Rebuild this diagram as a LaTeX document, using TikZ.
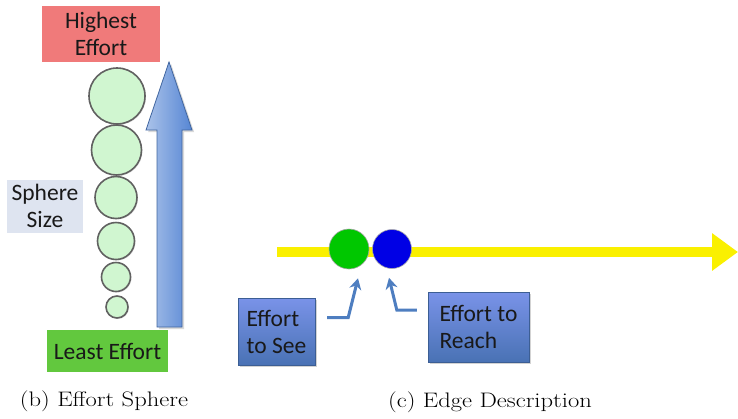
\documentclass[tikz,border=0pt]{standalone}
\usepackage{fontspec}
\usepackage{graphicx}
\newfontfamily\labelfont{Carlito}
\usetikzlibrary{arrows,arrows.meta,shadows}
\definecolor{highred}{RGB}{240,122,122}
\definecolor{leastgreen}{RGB}{98,200,62}
\definecolor{sizegrey}{RGB}{222,228,240}
\definecolor{spheregreen}{RGB}{208,246,208}
\definecolor{bigblue}{RGB}{86,134,212}
\definecolor{pointblue}{RGB}{78,126,192}
\definecolor{edgeyellow}{RGB}{250,240,0}
\newcommand{\wide}[1]{\scalebox{1.17}[1]{#1}}
\tikzstyle{labelbox}=[rectangle,inner sep=2pt,font=\labelfont\fontsize{23.5}{27}\selectfont,text=black!90]
\tikzstyle{bluebox}=[labelbox,top color=blue!25!bigblue!70!white,bottom color=bigblue!85!black,draw=bigblue!70!black,align=left,drop shadow={opacity=0.35}]
\tikzstyle{sphere}=[circle,draw=black!62,line width=1.6pt,fill=spheregreen,inner sep=0pt,drop shadow={opacity=0.25,shadow xshift=1pt,shadow yshift=-1pt}]
\tikzstyle{dot}=[circle,inner sep=0pt,draw=black!35,line width=0.6pt]
\tikzstyle{pointer} = [draw=pointblue,line width=3pt,-{Stealth[length=11pt,width=12pt]}]
\tikzstyle{edge} = [draw=edgeyellow,line width=10pt,-{Triangle[length=26pt,width=36pt]}]
\tikzstyle{caption}=[font=\fontsize{21}{24}\selectfont]

\begin{document}
\begin{tikzpicture}[x=1pt,y=-1pt]
    \useasboundingbox (0,0) rectangle (738,418);
    % (b) effort sphere: labels first
    \node[labelbox,fill=highred,minimum width=118pt,minimum height=56pt,align=center] (highest) at (101,34) {Highest\\Effort};
    \node[labelbox,fill=sizegrey,minimum width=76pt,minimum height=53pt,align=center] (size) at (45,206) {Sphere\\Size};
    \node[labelbox,fill=leastgreen,minimum width=121pt,minimum height=42pt] (least) at (107.5,351) {Least Effort};

    % big arrow going up
    \path[draw=bigblue!75!black,line width=0.8pt,left color=bigblue!50!white,right color=bigblue,drop shadow={opacity=0.3}]
        (157,327) -- (157,130) -- (146,130) -- (169,62) -- (192,130) -- (182,130) -- (182,327) -- cycle;

    % the spheres, largest on top
    \foreach \pos/\d/\name in {{(117,96)/56/s1}, {(116.5,150)/50/s2}, {(116,197.5)/42/s3},
                               {(116,241)/37/s4}, {(116,277)/29/s5}, {(117,307)/22/s6}}
        \node[sphere,minimum size=\d pt] (\name) at \pos {};

    \node[caption] (capb) at (104,401) {\wide{(b) Effort Sphere}};

    % (c) edge description
    \coordinate (edgestart) at (277,252);
    \coordinate (edgeend) at (738,252);
    \draw[edge] (edgestart) -- (edgeend);

    \node[dot,fill=green!78!black,minimum size=40pt] (seedot) at (349,249) {};
    \node[dot,fill=blue!90!black,minimum size=39pt] (reachdot) at (392,249) {};

    \node[bluebox,minimum width=77pt,minimum height=67pt] (see) at (276.5,331.5) {Effort\\to See};
    \node[bluebox,minimum width=101pt,minimum height=70pt] (reach) at (478.5,327) {Effort to\\Reach};

    % pointers from the boxes to the dots
    \draw[pointer] ([xshift=12pt,yshift=14pt]see.east) -- ++(21,0) -- ([xshift=9pt,yshift=-9pt]seedot.south);
    \draw[pointer] ([xshift=-11pt,yshift=17pt]reach.west) -- ++(-20,0) -- ([xshift=-3pt,yshift=-9pt]reachdot.south);

    \node[caption] (capc) at (490,402) {\wide{(c) Edge Description}};
\end{tikzpicture}
\end{document}
